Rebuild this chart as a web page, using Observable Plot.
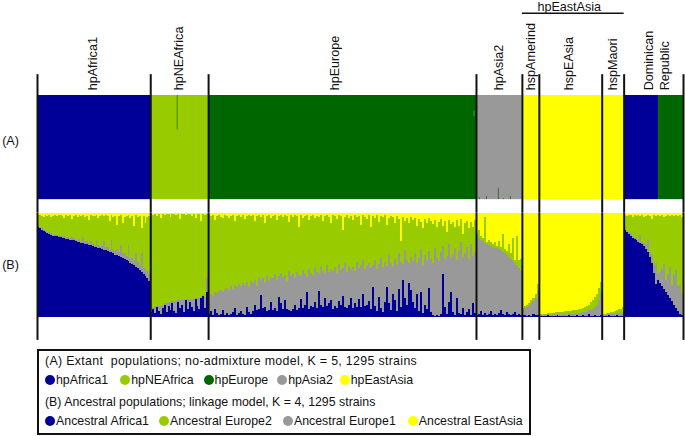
<!DOCTYPE html>
<html><head><meta charset="utf-8">
<script src="https://cdn.jsdelivr.net/npm/d3@7"></script>
<script src="https://cdn.jsdelivr.net/npm/@observablehq/plot@0.6"></script>
<style>
html,body{margin:0;padding:0;background:#fff;overflow:hidden;font-family:"Liberation Sans",Arial,sans-serif;color:#111}
svg{display:block}
#legend{box-sizing:border-box;margin-left:37px;width:494px;height:86px;border:2px solid #111;padding:0.5px 0 0 6px;font-size:12.35px}
#legend .row{white-space:pre;height:19px;display:flex;align-items:center}
#legend .row.gap{margin-top:3px}
#legend .row.wide{letter-spacing:.33px}
#legend .row.keyB{letter-spacing:.02px}
#legend i{display:inline-block;width:10px;height:10px;border-radius:50%;margin-right:1px}
#legend span{display:inline-flex;align-items:center}
</style></head><body>
<div id="chart"></div>
<div id="legend"></div>
<script>
// Population groups along the strain axis
const groupNames = ["hpAfrica1","hpNEAfrica","hpEurope","hpAsia2","hspAmerind","hspEAsia","hspMaori","Dominican Republic"];
const groupCounts = [227,116,537,92,34,126,44,119];
const labelNames = ["hpAfrica1","hpNEAfrica","hpEurope","hpAsia2","hspAmerind","hspEAsia","hspMaori","Dominican","Republic"];
const labelStrain = [111,283,597,925,990,1066,1154,1225,1257];

// Legend
const extantPops = ["hpAfrica1","hpNEAfrica","hpEurope","hpAsia2","hpEastAsia"];
const extantColors = ["#000099","#99cc00","#006600","#999999","#ffff00"];
const ancestralPops = ["Ancestral Africa1","Ancestral Europe1","Ancestral Europe2","Ancestral EastAsia"];
const ancestralColors = ["#000099","#999999","#99cc00","#ffff00"];
const ancestralLegendOrder = ["Ancestral Africa1","Ancestral Europe2","Ancestral Europe1","Ancestral EastAsia"];
const captionA = "(A) Extant  populations; no-admixture model, K = 5, 1295 strains";
const captionB = "(B) Ancestral populations; linkage model, K = 4, 1295 strains";

// Panel A: solid runs of strains [first strain, last strain, population]
const runStart = [0,227,343,880,972,1176,1245];
const runEnd   = [227,343,880,972,1176,1245,1295];
const runPop   = ["hpAfrica1","hpNEAfrica","hpEurope","hpAsia2","hpEastAsia","hpAfrica1","hpEurope"];
// Panel A: individual strains assigned elsewhere
const sliverStrain = [280,875,886,900,924,934,948];
const sliverFrom   = [0.67,0.80,0,0,0,0,0];
const sliverTo     = [1,0.85,0.02,0.03,0.11,0.01,0.03];
const sliverPop    = ["hpEurope","hpAsia2","hpEurope","hpEurope","hpEurope","hpEurope","hpEurope"];

// Panel B: percent per column, by group. Europe2 is the remainder to 100.
const afr_hpAfrica1 = [86,85,84,83,82,81,80,79,78,78,78,77,77,76,76,75,75,74,74,74,73,72,72,71,71,70,70,69,69,68,67,67,66,66,65,64,64,63,62,62,61,60,60,59,58,57,56,55,54,52,51,50,48,47,45,43,41,39,37,35];
const eu1_hpAfrica1 = [2,1,2,1,2,1,2,2,1,2,1,2,1,2,2,1,2,2,3,2,1,2,3,2,6,2,3,2,4,3,2,7,3,2,3,9,3,4,2,12,4,3,5,3,11,4,5,4,15,5,6,4,13,6,5,18,6,8,7,7];
const eas_hpAfrica1 = [2,2,3,4,2,3,2,4,3,2,3,2,2,3,5,2,3,2,6,3,2,4,2,3,2,4,3,7,2,3,3,2,5,3,2,3,2,3,8,2,4,3,12,3,2,10,4,3,2,5,3,13,2,4,3,15,3,10,4,3];

const afr_hpNEAfrica = [5,8,4,10,6,3,9,12,5,11,7,13,6,4,14,9,12,5,16,8,14,10,6,17,11,8,18,20,9,24];
const eu1_hpNEAfrica = [6,2,6,1,5,8,3,1,8,3,7,2,9,11,2,7,4,11,1,9,3,7,11,1,7,10,1,1,10,14];
const eas_hpNEAfrica = [1,2,1,3,1,5,1,2,1,1,4,1,1,2,1,6,1,1,2,1,1,3,1,5,1,1,8,1,2,1];

const afr_hpEurope = [3,6,2,8,4,2,3,7,2,4,2,3,5,9,2,4,6,3,2,10,5,3,6,12,7,8,21,9,10,6,7,14,7,9,6,19,13,8,16,8,7,6,8,12,7,9,17,9,12,24,8,11,10,14,9,25,12,10,18,11,13,16,8,11,9,15,12,20,10,9,12,18,9,13,10,17,10,22,11,12,15,8,29,11,6,19,9,5,14,29,13,7,22,16,6,27,10,36,18,12,33,26,14,9,22,6,24,4,12,8,28,5,2,1,2,1,3,41,10,3,14,24,5,2,18,4,3,9,2,5,8,2,13,4];
const eu1_hpEurope = [15,16,18,16,19,23,23,17,25,24,24,27,22,22,27,28,24,30,29,24,24,32,27,24,23,30,15,28,24,33,28,24,30,32,30,20,29,30,24,27,37,33,33,25,36,31,22,36,29,14,38,31,30,33,34,16,37,34,24,39,30,30,36,37,33,36,33,27,42,34,37,28,39,31,43,30,40,33,35,37,37,39,21,44,40,32,49,43,39,20,47,45,27,40,44,34,43,15,46,43,19,32,40,52,30,51,41,46,48,47,35,51,50,65,55,53,59,27,46,56,56,34,55,64,37,59,69,49,59,62,48,68,46,58];
const eas_hpEurope = [2,3,2,7,3,2,4,5,2,3,5,3,2,8,3,2,4,2,6,3,2,3,2,8,3,2,4,2,10,3,2,5,3,2,7,3,2,4,2,3,9,2,4,2,3,14,2,5,3,2,7,3,2,5,3,4,2,8,3,2,4,10,2,3,6,2,3,16,4,2,5,3,7,2,4,3,12,2,4,6,2,14,3,5,2,9,3,4,2,12,5,3,4,10,3,6,27,4,8,5,10,4,7,5,13,6,9,15,6,10,5,8,11,7,14,9,6,13,8,18,7,11,9,14,7,13,6,20,10,8,15,9,14,7];

const afr_hpAsia2 = [2,3,6,2,4,2,3,6,2,3,2,4,7,3,2,5,3,2,3,5,2,3,2];
const eu1_hpAsia2 = [77,73,68,71,67,68,66,62,65,63,64,61,57,59,59,55,55,54,51,47,48,44,42];
const eas_hpAsia2 = [19,16,22,24,4,28,26,28,30,28,32,27,33,20,35,37,30,39,24,45,22,45,44];

const afr_hspAmerind = [2,2,1,2,1,3,2,2];
const eu1_hspAmerind = [5,7,9,9,12,12,16,24];
const eas_hspAmerind = [91,89,88,87,84,82,78,68];

const afr_hspEAsia = [1,1,1,1,2,1,1,1,1,2,1,1,1,1,1,2,1,1,1,2,1,1,2,1,1,3,1,1,2,1,1,2];
const eu1_hspEAsia = [1,1,1,1,1,1,1,2,1,1,2,1,2,2,1,2,2,2,2,2,3,3,3,4,4,4,6,7,8,11,15,22];
const eas_hspEAsia = [97,97,97,97,96,96,96,96,95,95,95,95,95,94,94,94,94,93,93,93,92,92,91,90,89,88,86,84,81,78,72,66];

const afr_hspMaori = [1,1,1,2,1,1,1,2,1,1,1];
const eu1_hspMaori = [1,1,2,1,2,2,2,2,3,3,4];
const eas_hspMaori = [97,97,96,96,95,95,94,93,92,92,90];

const afr_DR = [84,82,80,78,76,75,74,72,71,70,68,65,62,58,52,42,32,36,33,30,27,24,21,18,15,12,9,6,3,2];
const eu1_DR = [2,1,2,3,2,1,3,2,8,2,3,4,12,4,8,8,20,6,10,16,24,12,20,30,16,28,36,24,28,20];
const eas_DR = [2,3,2,2,4,2,3,2,3,2,4,3,2,3,6,2,3,2,3,2,4,3,2,3,2,3,2,3,2,4];

const afrByGroup = [afr_hpAfrica1,afr_hpNEAfrica,afr_hpEurope,afr_hpAsia2,afr_hspAmerind,afr_hspEAsia,afr_hspMaori,afr_DR];
const eu1ByGroup = [eu1_hpAfrica1,eu1_hpNEAfrica,eu1_hpEurope,eu1_hpAsia2,eu1_hspAmerind,eu1_hspEAsia,eu1_hspMaori,eu1_DR];
const easByGroup = [eas_hpAfrica1,eas_hpNEAfrica,eas_hpEurope,eas_hpAsia2,eas_hspAmerind,eas_hspEAsia,eas_hspMaori,eas_DR];

// Build tables: bands are painted layer by layer as cumulative heights, tallest first.
const boundaries = [0, ...d3.cumsum(groupCounts)];
const layers = [[], [], [], []];
groupCounts.forEach((n, g) => {
  const m = afrByGroup[g].length;
  afrByGroup[g].forEach((a, i) => {
    const x1 = boundaries[g] + n * i / m;
    const x2 = boundaries[g] + n * (i + 1) / m;
    const u = eu1ByGroup[g][i], e = easByGroup[g][i];
    const tops = [a, a + u, Math.max(a + u, 100 - e), 100];
    tops.forEach((t, k) => layers[k].push({panel:"B", x1, x2, pop:ancestralPops[k], top:t / 100}));
  });
});
const colsB = [...layers[3], ...layers[2], ...layers[1], ...layers[0]];
const runsA = runPop.map((pop, i) => ({panel:"A", x1:runStart[i], x2:runEnd[i], pop}));
const slivers = sliverStrain.map((s, i) => ({panel:"A", x1:s, x2:s + 2, y1:sliverFrom[i], y2:sliverTo[i], pop:sliverPop[i]}));
const divider = boundaries.flatMap(x => [
  {panel:"A", x, y1:-0.13, y2:1.2},
  {panel:"B", x, y1:-0.22, y2:1}
]);
const labels = labelNames.map((t, i) => ({t, x:labelStrain[i]}));

const fyOf = d => d.panel;
const chart = Plot.plot({
  width:685, height:349,
  marginTop:95, marginBottom:32, marginLeft:37, marginRight:2,
  style:{fontFamily:'"Liberation Sans",Arial,sans-serif', background:"#fff", color:"#111", overflow:"visible"},
  x:{domain:[0,1295], axis:null},
  y:{domain:[0,1], axis:null},
  fy:{domain:["A","B"], axis:null, paddingInner:0.116, paddingOuter:0, round:false},
  color:{domain:[...extantPops, ...ancestralPops], range:[...extantColors, ...ancestralColors]},
  marks:[
    Plot.rectY(runsA, {x1:"x1", x2:"x2", y1:0, y2:1, fy:fyOf, fill:"pop"}),
    Plot.rectY(slivers, {x1:"x1", x2:"x2", y1:"y1", y2:"y2", fy:fyOf, fill:"pop", fillOpacity:0.65}),
    Plot.rectY(colsB, {x1:"x1", x2:"x2", y1:0, y2:"top", fy:fyOf, fill:"pop", shapeRendering:"crispEdges"}),
    Plot.ruleX(divider, {x:"x", y1:"y1", y2:"y2", fy:fyOf, stroke:"#111", strokeWidth:2}),
    Plot.text(labels, {x:"x", y:1.05, fy:()=>"A", text:"t", rotate:-90, textAnchor:"start", fontSize:12.6, fill:"#111"}),
    Plot.text(["hpEastAsia"], {x:[1066], y:[1.85], fy:()=>"A", text:d=>d, fontSize:12.6, fill:"#111"}),
    Plot.ruleY([1.79], {x1:972, x2:1176, fy:()=>"A", stroke:"#111", strokeWidth:1.5}),
    Plot.text(["A","B"], {x:[-54,-54], y:[0.56,0.5], fy:d=>d, text:d=>`(${d})`, fontSize:12.6, fill:"#111"})
  ]
});
document.getElementById("chart").append(chart);

// Legend (HTML below the SVG)
const colorOf = d3.scaleOrdinal([...extantPops, ...ancestralPops], [...extantColors, ...ancestralColors]);
const legend = d3.select("#legend");
function caption(t, cls){ legend.append("div").attr("class", "row " + cls).text(t); }
function keyRow(items, gaps, cls){
  const r = legend.append("div").attr("class", "row " + cls);
  items.forEach((n, i) => {
    const s = r.append("span").style("margin-right", gaps[i] + "px");
    s.append("i").style("background", colorOf(n));
    s.append("b").style("font-weight", "normal").text(n);
  });
}
caption(captionA, "wide");
keyRow(extantPops, [12,10,9,7,0], "");
caption(captionB, "gap");
keyRow(ancestralLegendOrder, [10,11,12,0], "keyB");
</script>
</body></html>
